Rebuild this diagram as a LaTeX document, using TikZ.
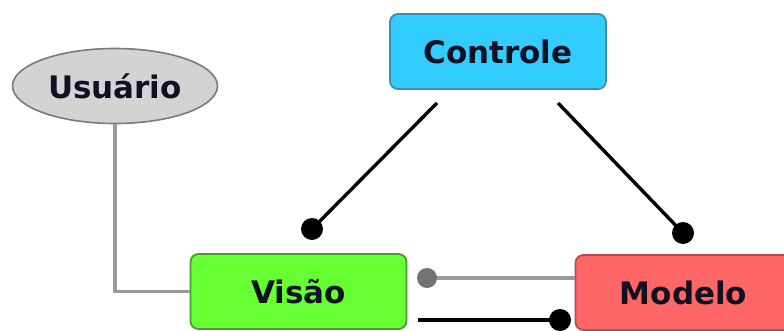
\documentclass[tikz,border=0pt]{standalone}
\usepackage{fontspec}
\setmainfont{DejaVu Sans}
\usetikzlibrary{shapes.geometric}
\definecolor{ctlfill}{HTML}{33CCFF}
\definecolor{ctlline}{HTML}{3A8FB0}
\definecolor{visfill}{HTML}{66FF33}
\definecolor{visline}{HTML}{4A9A30}
\definecolor{modfill}{HTML}{FF6666}
\definecolor{modline}{HTML}{B84A4A}
\definecolor{usrfill}{HTML}{D3D3D3}
\definecolor{usrline}{HTML}{7A7A7A}
\definecolor{wire}{HTML}{999999}
\definecolor{ink}{HTML}{111122}
\begin{document}
\begin{tikzpicture}[x=1pt,y=-1pt,
  label/.style={font=\bfseries\fontsize{31}{31}\selectfont, text=ink},
  box/.style={label, draw, line width=1.8pt, rounded corners=8pt, minimum width=216pt, minimum height=75pt, inner sep=0pt},
  link/.style={line width=3.4pt, black},
  graylink/.style={line width=3.2pt, wire},
  dot/.style={circle, fill, inner sep=0pt, minimum size=22pt}]
\useasboundingbox (0,0) rectangle (784,331);
\fill[white] (0,0) rectangle (784,331);

% the four parts of the pattern
\node[box, fill=ctlfill, draw=ctlline] (ctl) at (498,51.5) {Controle};
\node[label, ellipse, draw=usrline, fill=usrfill, line width=1.6pt, minimum width=205pt, minimum height=75pt, inner sep=0pt] (usr) at (115,86) {Usuário};
\node[box, fill=visfill, draw=visline] (vis) at (298.5,291.5) {Visão};
\node[box, fill=modfill, draw=modline] (mod) at (683.5,292.5) {Modelo};

% end points of the links
\coordinate (c1) at (437,103);
\coordinate (c2) at (558,103);
\coordinate (dv) at (312,229);
\coordinate (dm) at (683,233);
\coordinate (dg) at (427,278);
\coordinate (db) at (560,320);
\coordinate (vb) at (418,320);

% Controle observes Visao and Modelo
\draw[link] (c1) -- (dv);
\node[dot, black] at (dv) {};
\draw[link] (c2) -- (dm);
\node[dot, black] at (dm) {};

% Usuario interacts with Visao
\draw[graylink] (usr.south) |- (vis.west);

% Visao <-> Modelo
\draw[graylink] (mod.west |- dg) -- (dg);
\node[dot, wire!75!black, minimum size=20pt] at (dg) {};
\draw[link] (vb) -- (db);
\node[dot, black] at (db) {};
\end{tikzpicture}
\end{document}
